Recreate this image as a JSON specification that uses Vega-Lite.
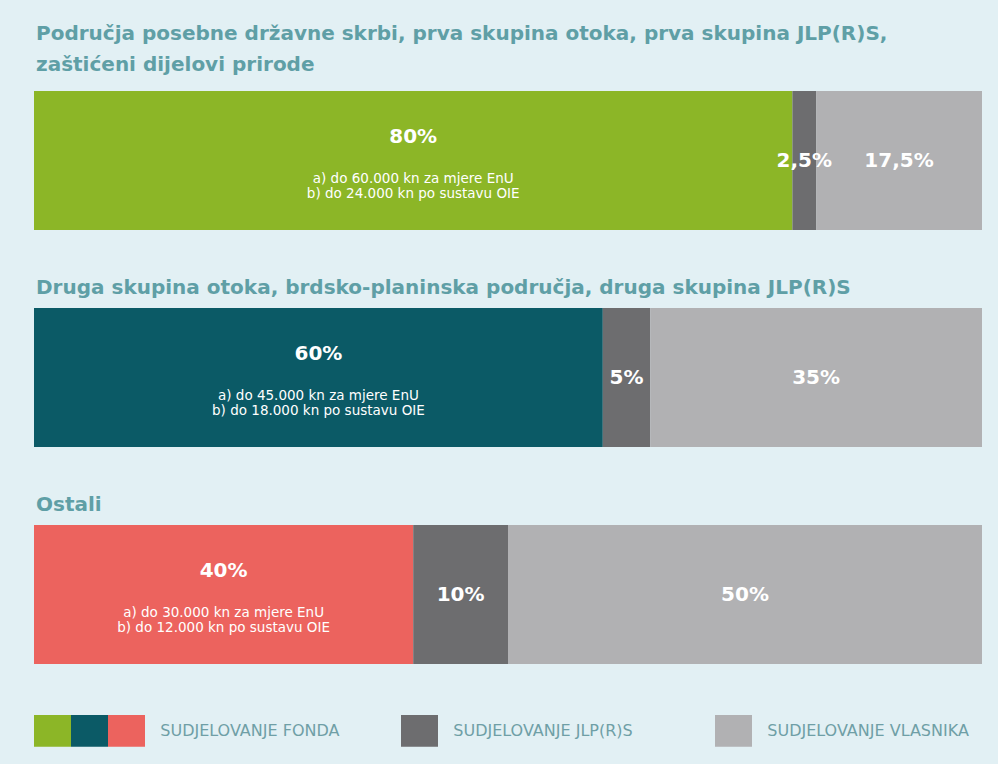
{
  "$schema": "https://vega.github.io/schema/vega-lite/v6.json",
  "background": "#e2f0f4",
  "padding": {"left": 34, "top": 24, "right": 16, "bottom": 26},
  "config": {
    "view": {"stroke": null},
    "font": "DejaVu Sans",
    "title": {"anchor": "start", "font": "DejaVu Sans", "fontSize": 20, "fontWeight": "bold", "color": "#5f9fa6", "lineHeight": 31, "offset": 10, "dx": 2}
  },
  "data": {
    "values": [
      {"skupina": "g1", "kategorija": "Fond (skupina 1)", "redoslijed": 1, "udio": 80, "oznaka": "80%", "opis": "a) do 60.000 kn za mjere EnU\nb) do 24.000 kn po sustavu OIE"},
      {"skupina": "g1", "kategorija": "JLP(R)S", "redoslijed": 2, "udio": 2.5, "oznaka": "2,5%", "opis": ""},
      {"skupina": "g1", "kategorija": "Vlasnik", "redoslijed": 3, "udio": 17.5, "oznaka": "17,5%", "opis": ""},
      {"skupina": "g2", "kategorija": "Fond (skupina 2)", "redoslijed": 1, "udio": 60, "oznaka": "60%", "opis": "a) do 45.000 kn za mjere EnU\nb) do 18.000 kn po sustavu OIE"},
      {"skupina": "g2", "kategorija": "JLP(R)S", "redoslijed": 2, "udio": 5, "oznaka": "5%", "opis": ""},
      {"skupina": "g2", "kategorija": "Vlasnik", "redoslijed": 3, "udio": 35, "oznaka": "35%", "opis": ""},
      {"skupina": "g3", "kategorija": "Fond (skupina 3)", "redoslijed": 1, "udio": 40, "oznaka": "40%", "opis": "a) do 30.000 kn za mjere EnU\nb) do 12.000 kn po sustavu OIE"},
      {"skupina": "g3", "kategorija": "JLP(R)S", "redoslijed": 2, "udio": 10, "oznaka": "10%", "opis": ""},
      {"skupina": "g3", "kategorija": "Vlasnik", "redoslijed": 3, "udio": 50, "oznaka": "50%", "opis": ""}
    ]
  },
  "transform": [
    {"stack": "udio", "groupby": ["skupina"], "sort": [{"field": "redoslijed", "order": "ascending"}], "as": ["x0", "x1"]},
    {"calculate": "(datum.x0 + datum.x1) / 2", "as": "sredina"}
  ],
  "spacing": 48,
  "vconcat": [
    {
      "title": {"text": ["Područja posebne državne skrbi, prva skupina otoka, prva skupina JLP(R)S,", "zaštićeni dijelovi prirode"], "offset": 16},
      "transform": [{"filter": "datum.skupina == 'g1'"}],
      "width": 948, "height": 139,
      "layer": [
        {"mark": {"type": "bar"},
         "encoding": {
           "x": {"field": "x0", "type": "quantitative", "scale": {"domain": [0, 100], "nice": false}, "axis": null},
           "x2": {"field": "x1"},
           "y": {"field": "skupina", "type": "nominal", "axis": null, "scale": {"paddingInner": 0, "paddingOuter": 0}},
           "color": {"field": "kategorija", "type": "nominal",
             "scale": {"domain": ["Fond (skupina 1)", "Fond (skupina 2)", "Fond (skupina 3)", "JLP(R)S", "Vlasnik"], "range": ["#8cb627", "#0b5a66", "#ec635e", "#6d6d6f", "#b1b1b3"]},
             "legend": {"orient": "bottom", "offset": 48, "direction": "horizontal", "title": null,
               "symbolType": "M-1,-0.86L1,-0.86L1,0.86L-1,0.86Z", "symbolSize": 1369, "symbolStrokeWidth": 0, "symbolOpacity": 1,
               "labelOffset": 0, "columnPadding": 0, "labelFont": "DejaVu Sans", "labelFontSize": 16, "labelColor": "#6f9fa6", "labelLimit": 0,
               "labelExpr": "datum.value == 'Fond (skupina 3)' ? '\u200b\u00a0\u00a0\u00a0SUDJELOVANJE FONDA\u00a0\u00a0\u00a0\u00a0\u00a0\u00a0\u00a0\u00a0\u00a0\u00a0\u00a0\u00a0\u200b' : datum.value == 'JLP(R)S' ? '\u200b\u00a0\u00a0\u00a0SUDJELOVANJE JLP(R)S\u00a0\u00a0\u00a0\u00a0\u00a0\u00a0\u00a0\u00a0\u00a0\u00a0\u00a0\u00a0\u00a0\u00a0\u00a0\u00a0\u200b' : datum.value == 'Vlasnik' ? '\u200b\u00a0\u00a0\u00a0SUDJELOVANJE VLASNIKA' : ''"}
           }
         }},
        {"transform": [{"filter": "datum.redoslijed == 1"}],
         "mark": {"type": "text", "dy": -24, "color": "white", "fontSize": 20, "fontWeight": "bold", "font": "DejaVu Sans"},
         "encoding": {"x": {"field": "sredina", "type": "quantitative"}, "y": {"field": "skupina", "type": "nominal"}, "text": {"field": "oznaka"}}},
        {"transform": [{"filter": "datum.redoslijed == 1"}],
         "mark": {"type": "text", "dy": 18, "color": "white", "fontSize": 13.5, "lineBreak": "\n", "lineHeight": 15, "font": "DejaVu Sans"},
         "encoding": {"x": {"field": "sredina", "type": "quantitative"}, "y": {"field": "skupina", "type": "nominal"}, "text": {"field": "opis"}}},
        {"transform": [{"filter": "datum.redoslijed > 1"}],
         "mark": {"type": "text", "color": "white", "fontSize": 20, "fontWeight": "bold", "font": "DejaVu Sans"},
         "encoding": {"x": {"field": "sredina", "type": "quantitative"}, "y": {"field": "skupina", "type": "nominal"}, "text": {"field": "oznaka"}}}
      ]
    },
    {
      "title": {"text": "Druga skupina otoka, brdsko-planinska područja, druga skupina JLP(R)S"},
      "transform": [{"filter": "datum.skupina == 'g2'"}],
      "width": 948, "height": 139,
      "layer": [
        {"mark": {"type": "bar"},
         "encoding": {
           "x": {"field": "x0", "type": "quantitative", "scale": {"domain": [0, 100], "nice": false}, "axis": null},
           "x2": {"field": "x1"},
           "y": {"field": "skupina", "type": "nominal", "axis": null, "scale": {"paddingInner": 0, "paddingOuter": 0}},
           "color": {"field": "kategorija", "type": "nominal"}
         }},
        {"transform": [{"filter": "datum.redoslijed == 1"}],
         "mark": {"type": "text", "dy": -24, "color": "white", "fontSize": 20, "fontWeight": "bold", "font": "DejaVu Sans"},
         "encoding": {"x": {"field": "sredina", "type": "quantitative"}, "y": {"field": "skupina", "type": "nominal"}, "text": {"field": "oznaka"}}},
        {"transform": [{"filter": "datum.redoslijed == 1"}],
         "mark": {"type": "text", "dy": 18, "color": "white", "fontSize": 13.5, "lineBreak": "\n", "lineHeight": 15, "font": "DejaVu Sans"},
         "encoding": {"x": {"field": "sredina", "type": "quantitative"}, "y": {"field": "skupina", "type": "nominal"}, "text": {"field": "opis"}}},
        {"transform": [{"filter": "datum.redoslijed > 1"}],
         "mark": {"type": "text", "color": "white", "fontSize": 20, "fontWeight": "bold", "font": "DejaVu Sans"},
         "encoding": {"x": {"field": "sredina", "type": "quantitative"}, "y": {"field": "skupina", "type": "nominal"}, "text": {"field": "oznaka"}}}
      ]
    },
    {
      "title": {"text": "Ostali"},
      "transform": [{"filter": "datum.skupina == 'g3'"}],
      "width": 948, "height": 139,
      "layer": [
        {"mark": {"type": "bar"},
         "encoding": {
           "x": {"field": "x0", "type": "quantitative", "scale": {"domain": [0, 100], "nice": false}, "axis": null},
           "x2": {"field": "x1"},
           "y": {"field": "skupina", "type": "nominal", "axis": null, "scale": {"paddingInner": 0, "paddingOuter": 0}},
           "color": {"field": "kategorija", "type": "nominal"}
         }},
        {"transform": [{"filter": "datum.redoslijed == 1"}],
         "mark": {"type": "text", "dy": -24, "color": "white", "fontSize": 20, "fontWeight": "bold", "font": "DejaVu Sans"},
         "encoding": {"x": {"field": "sredina", "type": "quantitative"}, "y": {"field": "skupina", "type": "nominal"}, "text": {"field": "oznaka"}}},
        {"transform": [{"filter": "datum.redoslijed == 1"}],
         "mark": {"type": "text", "dy": 18, "color": "white", "fontSize": 13.5, "lineBreak": "\n", "lineHeight": 15, "font": "DejaVu Sans"},
         "encoding": {"x": {"field": "sredina", "type": "quantitative"}, "y": {"field": "skupina", "type": "nominal"}, "text": {"field": "opis"}}},
        {"transform": [{"filter": "datum.redoslijed > 1"}],
         "mark": {"type": "text", "color": "white", "fontSize": 20, "fontWeight": "bold", "font": "DejaVu Sans"},
         "encoding": {"x": {"field": "sredina", "type": "quantitative"}, "y": {"field": "skupina", "type": "nominal"}, "text": {"field": "oznaka"}}}
      ]
    }
  ]
}
